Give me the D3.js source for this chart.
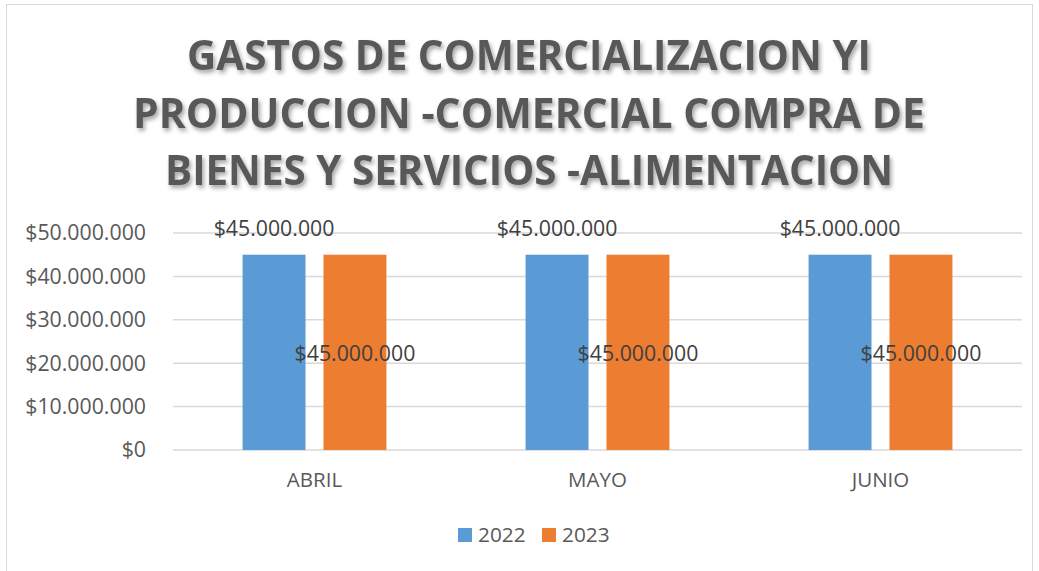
<!DOCTYPE html>
<html>
<head>
<meta charset="utf-8">
<script src="https://cdn.jsdelivr.net/npm/d3@7"></script>
<style>
  body { margin: 0; background: #fff; }
  text { font-family: "Open Sans", "Noto Sans", sans-serif; }
</style>
</head>
<body>
<div id="chart"></div>
<script>
var width = 1039;
var height = 571;

var titleLines = [
  "GASTOS DE COMERCIALIZACION YI",
  "PRODUCCION -COMERCIAL COMPRA DE",
  "BIENES Y SERVICIOS -ALIMENTACION"
];
var months = ["ABRIL", "MAYO", "JUNIO"];
var seriesNames = ["2022", "2023"];
var values2022 = [45000000, 45000000, 45000000];
var values2023 = [45000000, 45000000, 45000000];
var yTicks = [0, 10000000, 20000000, 30000000, 40000000, 50000000];
var colors = ["#5b9bd5", "#ed7d31"];

var margin = {top: 233, right: 17, bottom: 121, left: 173};

var svg = d3.select("#chart")
  .append("svg")
  .attr("width", width)
  .attr("height", height);

// frame
svg.append("rect")
  .attr("x", 6.5).attr("y", 4.5)
  .attr("width", 1026).attr("height", 580)
  .attr("fill", "#fff")
  .attr("stroke", "#d9d9d9")
  .attr("stroke-width", 1);

var defs = svg.append("defs");
var shadow = defs.append("filter").attr("id", "shadow")
  .attr("x", "-10%").attr("y", "-30%").attr("width", "120%").attr("height", "160%");
shadow.append("feDropShadow")
  .attr("dx", 2).attr("dy", 3).attr("stdDeviation", 2)
  .attr("flood-color", "#000").attr("flood-opacity", 0.35);

// title
var titleWidths = [684, 792, 728];
svg.append("g")
  .attr("filter", "url(#shadow)")
  .selectAll("text")
  .data(titleLines)
  .enter().append("text")
  .attr("x", 529)
  .attr("y", function(d, i) { return 70 + i * 57.5; })
  .attr("text-anchor", "middle")
  .attr("font-size", 42)
  .attr("font-weight", "bold")
  .attr("fill", "#595959")
  .attr("textLength", function(d, i) { return titleWidths[i]; })
  .attr("lengthAdjust", "spacingAndGlyphs")
  .text(function(d) { return d; });

var x0 = d3.scaleBand()
  .domain(months)
  .range([margin.left, width - margin.right]);

var x1 = d3.scaleBand()
  .domain(seriesNames)
  .range([0, x0.bandwidth()])
  .paddingInner(0.222)
  .paddingOuter(0.86);

var y = d3.scaleLinear()
  .domain([0, 50000000])
  .range([height - margin.bottom, margin.top]);

var fmt = function(v) {
  return "$" + d3.format(",")(v).replace(/,/g, ".");
};

// gridlines
svg.append("g")
  .selectAll("line")
  .data(yTicks)
  .enter().append("line")
  .attr("x1", margin.left)
  .attr("x2", width - margin.right)
  .attr("y1", function(d) { return y(d); })
  .attr("y2", function(d) { return y(d); })
  .attr("stroke", "#d9d9d9")
  .attr("stroke-width", 1.5);

// y axis labels
var yAxis = d3.axisLeft(y)
  .tickValues(yTicks)
  .tickSize(0)
  .tickPadding(0)
  .tickFormat(fmt);

var yg = svg.append("g")
  .attr("transform", "translate(146,0)")
  .call(yAxis);
yg.select(".domain").remove();
yg.selectAll("text")
  .attr("font-size", 21.3)
  .attr("fill", "#595959")
  .attr("font-family", "'Open Sans', 'Noto Sans', sans-serif");

// x axis labels
var xAxis = d3.axisBottom(x0).tickSize(0).tickPadding(0);
var xg = svg.append("g")
  .attr("transform", "translate(0," + 489 + ")")
  .call(xAxis);
xg.select(".domain").remove();
xg.selectAll("text")
  .attr("font-size", 20.5)
  .attr("fill", "#595959")
  .attr("dy", "-0.1em")
  .attr("font-family", "'Open Sans', 'Noto Sans', sans-serif");

// bars
var rows = months.map(function(m, i) {
  return {month: m, vals: [
    {key: seriesNames[0], value: values2022[i]},
    {key: seriesNames[1], value: values2023[i]}
  ]};
});

var groups = svg.append("g")
  .selectAll("g")
  .data(rows)
  .enter().append("g")
  .attr("transform", function(d) { return "translate(" + x0(d.month) + ",0)"; });

groups.selectAll("rect")
  .data(function(d) { return d.vals; })
  .enter().append("rect")
  .attr("x", function(d) { return x1(d.key); })
  .attr("y", function(d) { return y(d.value); })
  .attr("width", x1.bandwidth())
  .attr("height", function(d) { return y(0) - y(d.value); })
  .attr("fill", function(d, i) { return colors[i]; });

// data labels: 2022 above the bar, 2023 centred in the bar
groups.selectAll("text.lbl")
  .data(function(d) { return d.vals; })
  .enter().append("text")
  .attr("class", "lbl")
  .attr("x", function(d) { return x1(d.key) + x1.bandwidth() / 2; })
  .attr("y", function(d, i) {
    return i === 0 ? y(d.value) - 26 : (y(d.value) + y(0)) / 2 + 1;
  })
  .attr("dy", "0.35em")
  .attr("text-anchor", "middle")
  .attr("font-size", 21.3)
  .attr("fill", "#404040")
  .text(function(d) { return fmt(d.value); });

// legend
var legend = svg.append("g")
  .selectAll("g")
  .data(seriesNames)
  .enter().append("g")
  .attr("transform", function(d, i) { return "translate(" + (458 + i * 84) + ",528)"; });

legend.append("rect")
  .attr("width", 14).attr("height", 14)
  .attr("fill", function(d, i) { return colors[i]; });

legend.append("text")
  .attr("x", 20).attr("y", 7)
  .attr("dy", "0.35em")
  .attr("font-size", 20.8)
  .attr("fill", "#595959")
  .text(function(d) { return d; });
</script>
</body>
</html>
